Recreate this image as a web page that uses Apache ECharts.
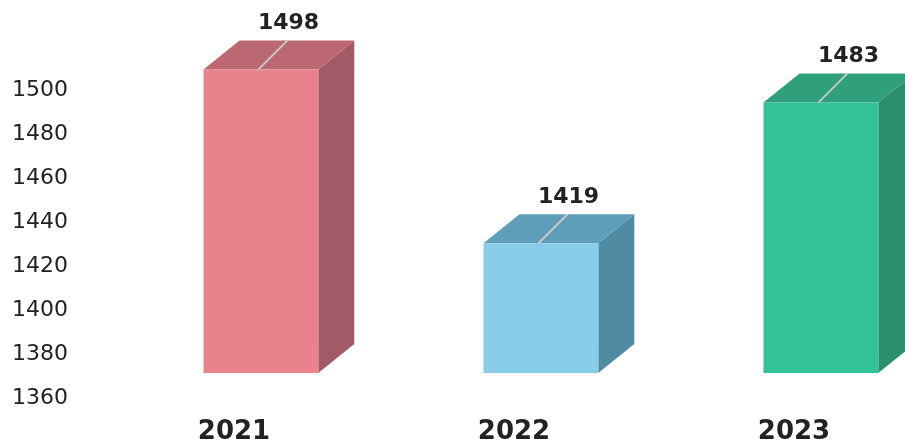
<!DOCTYPE html>
<html>
<head>
<meta charset="utf-8">
<script src="https://cdn.jsdelivr.net/npm/echarts@6/dist/echarts.min.js"></script>
<style>html,body{margin:0;padding:0;background:#fff;}#c{width:905px;height:441px;}</style>
</head>
<body>
<div id="c"></div>
<script>
var categories = ['2021', '2022', '2023'];
var values = [1498, 1419, 1483];
var yTicks = [1360, 1380, 1400, 1420, 1440, 1460, 1480, 1500];
var frontColors = ['#E8838D', '#88CDE7', '#33C296'];
var topColors = ['#BC6873', '#5E9EB9', '#2F9F7C'];
var sideColors = ['#A25A66', '#508BA4', '#2D8E6E'];

var chart = echarts.init(document.getElementById('c'));
var DX = 36, DY = -29, LIFT = -25;

chart.setOption({
  animation: false,
  grid: { left: 94, top: 90, width: 840, bottom: 43, outerBoundsMode: 'none', containLabel: false },
  xAxis: {
    type: 'category',
    data: categories,
    axisLine: { show: false },
    axisTick: { show: false },
    axisLabel: { margin: 21, fontFamily: 'DejaVu Sans', fontWeight: 'bold', fontSize: 26, color: '#222' }
  },
  yAxis: {
    type: 'value',
    min: yTicks[0],
    max: yTicks[yTicks.length - 1],
    interval: 20,
    axisLine: { show: false },
    axisTick: { show: false },
    splitLine: { show: false },
    axisLabel: { margin: 26, fontFamily: 'DejaVu Sans', fontSize: 22, color: '#222', formatter: function (v) { return String(v); } }
  },
  series: [{
    type: 'custom',
    data: values.map(function (v, i) { return [i, v]; }),
    renderItem: function (params, api) {
      var i = api.value(0);
      var top = api.coord([i, api.value(1)]);
      var base = api.coord([i, yTicks[0]]);
      var band = api.size([1, 0])[0];
      var w = band * 0.41;
      var x0 = top[0] - 30.5;
      var x1 = x0 + w;
      var yt = top[1] + LIFT;
      var yb = base[1] + LIFT;
      var idx = params.dataIndex;
      var lx0 = x0 + 55, ly0 = yt;
      return {
        type: 'group',
        children: [
          { type: 'polygon', shape: { points: [[x1, yt], [x1 + DX, yt + DY], [x1 + DX, yb + DY], [x1, yb]] }, style: { fill: sideColors[idx] } },
          { type: 'polygon', shape: { points: [[x0, yt], [x0 + DX, yt + DY], [x1 + DX, yt + DY], [x1, yt]] }, style: { fill: topColors[idx] } },
          { type: 'rect', shape: { x: x0, y: yt, width: w, height: yb - yt }, style: { fill: frontColors[idx] } },
          { type: 'line', shape: { x1: lx0, y1: ly0, x2: lx0 + 29, y2: ly0 + DY }, style: { stroke: '#c8c8c8', lineWidth: 2 } },
          { type: 'text', x: x0 + 85, y: yt + DY - 17, style: { text: String(api.value(1)), fontFamily: 'DejaVu Sans', fontWeight: 'bold', fontSize: 22, fill: '#222', align: 'center', verticalAlign: 'middle' } }
        ]
      };
    }
  }]
});
</script>
</body>
</html>
